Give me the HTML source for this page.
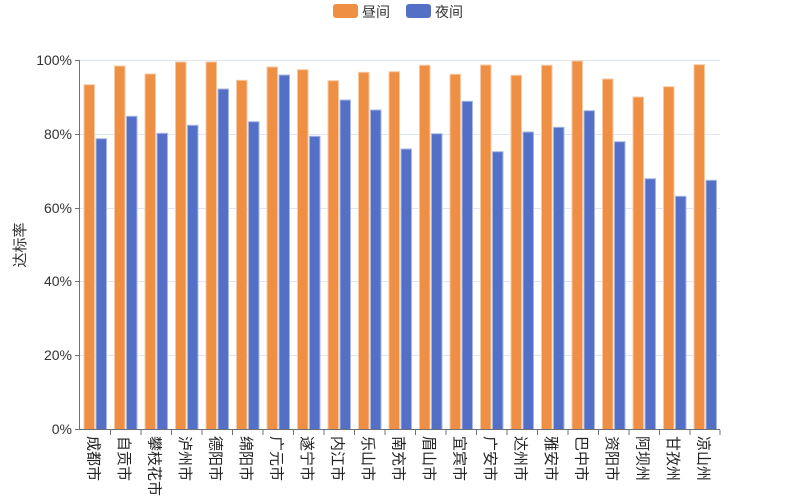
<!DOCTYPE html>
<html><head><meta charset="utf-8"><style>
html,body{margin:0;padding:0;background:#fff;}
svg{display:block;font-family:"Liberation Sans","Noto Sans CJK SC",sans-serif;}
</style></head><body>
<svg width="800" height="500" xmlns="http://www.w3.org/2000/svg">
<rect x="333" y="4" width="25" height="14" rx="3" fill="#ee8f43"/>
<text x="362" y="17" font-size="14" fill="#333">昼间</text>
<rect x="406" y="4" width="25" height="14" rx="3" fill="#5470c6"/>
<text x="435" y="17" font-size="14" fill="#333">夜间</text>
<g stroke="#e0e6f1" stroke-width="1">
<line x1="80" x2="720" y1="60.5" y2="60.5"/><line x1="80" x2="720" y1="134.5" y2="134.5"/>
<line x1="80" x2="720" y1="208.5" y2="208.5"/><line x1="80" x2="720" y1="281.5" y2="281.5"/>
<line x1="80" x2="720" y1="355.5" y2="355.5"/>
</g>
<g font-size="14" fill="#333" text-anchor="end">
<text x="72" y="65">100%</text><text x="72" y="139">80%</text><text x="72" y="213">60%</text>
<text x="72" y="286">40%</text><text x="72" y="360">20%</text><text x="72" y="434">0%</text>
</g>
<text transform="translate(25,245) rotate(-90)" font-size="15" fill="#333" text-anchor="middle">达标率</text>
<g fill="#ee8f43" stroke="#f7c9a3" stroke-width="1">
<rect x="84" y="84.7" width="10.5" height="344.8"/><rect x="114.5" y="66" width="10.5" height="363.5"/>
<rect x="145" y="74" width="10.5" height="355.5"/><rect x="175.5" y="62" width="10.5" height="367.5"/>
<rect x="206" y="62" width="10.5" height="367.5"/><rect x="236.5" y="80.3" width="10.5" height="349.2"/>
<rect x="267" y="67" width="10.5" height="362.5"/><rect x="297.5" y="69.7" width="10.5" height="359.8"/>
<rect x="328" y="80.7" width="10.5" height="348.8"/><rect x="358.5" y="72.3" width="10.5" height="357.2"/>
<rect x="389" y="71.7" width="10.5" height="357.8"/><rect x="419.5" y="65.3" width="10.5" height="364.2"/>
<rect x="450" y="74.3" width="10.5" height="355.2"/><rect x="480.5" y="65" width="10.5" height="364.5"/>
<rect x="511" y="75.3" width="10.5" height="354.2"/><rect x="541.5" y="65.3" width="10.5" height="364.2"/>
<rect x="572" y="61" width="10.5" height="368.5"/><rect x="602.5" y="79" width="10.5" height="350.5"/>
<rect x="633" y="97" width="10.5" height="332.5"/><rect x="663.5" y="86.7" width="10.5" height="342.8"/>
<rect x="694" y="64.7" width="10.5" height="364.8"/>
</g>
<g fill="#5470c6" stroke="#aab7e3" stroke-width="1">
<rect x="96" y="138.7" width="10.5" height="290.8"/><rect x="126.5" y="116.3" width="10.5" height="313.2"/>
<rect x="157" y="133.3" width="10.5" height="296.2"/><rect x="187.5" y="125.3" width="10.5" height="304.2"/>
<rect x="218" y="89" width="10.5" height="340.5"/><rect x="248.5" y="121.7" width="10.5" height="307.8"/>
<rect x="279" y="75" width="10.5" height="354.5"/><rect x="309.5" y="136.3" width="10.5" height="293.2"/>
<rect x="340" y="100" width="10.5" height="329.5"/><rect x="370.5" y="110" width="10.5" height="319.5"/>
<rect x="401" y="149" width="10.5" height="280.5"/><rect x="431.5" y="133.7" width="10.5" height="295.8"/>
<rect x="462" y="101.3" width="10.5" height="328.2"/><rect x="492.5" y="151.7" width="10.5" height="277.8"/>
<rect x="523" y="132" width="10.5" height="297.5"/><rect x="553.5" y="127.3" width="10.5" height="302.2"/>
<rect x="584" y="110.7" width="10.5" height="318.8"/><rect x="614.5" y="141.7" width="10.5" height="287.8"/>
<rect x="645" y="178.7" width="10.5" height="250.8"/><rect x="675.5" y="196.3" width="10.5" height="233.2"/>
<rect x="706" y="180.3" width="10.5" height="249.2"/>
</g>
<g stroke="#6e7079" stroke-width="1">
<line x1="79.5" x2="79.5" y1="60" y2="430"/>
<line x1="79" x2="720" y1="429.5" y2="429.5"/>
<line x1="75" x2="79.5" y1="60.5" y2="60.5"/><line x1="75" x2="79.5" y1="134.5" y2="134.5"/>
<line x1="75" x2="79.5" y1="208.5" y2="208.5"/><line x1="75" x2="79.5" y1="281.5" y2="281.5"/>
<line x1="75" x2="79.5" y1="355.5" y2="355.5"/><line x1="75" x2="79.5" y1="429.5" y2="429.5"/>
<path d="M110.5 430v5M141 430v5M171.5 430v5M202 430v5M232.5 430v5M263 430v5M293.5 430v5M324 430v5M354.5 430v5M385 430v5M415.5 430v5M446 430v5M476.5 430v5M507 430v5M537.5 430v5M568 430v5M598.5 430v5M629 430v5M659.5 430v5M690 430v5M720 430v5"/>
</g>
<g font-size="15" fill="#222">
<text transform="translate(88.7,436) rotate(90)">成都市</text>
<text transform="translate(119.2,436) rotate(90)">自贡市</text>
<text transform="translate(149.7,436) rotate(90)">攀枝花市</text>
<text transform="translate(180.2,436) rotate(90)">泸州市</text>
<text transform="translate(210.7,436) rotate(90)">德阳市</text>
<text transform="translate(241.2,436) rotate(90)">绵阳市</text>
<text transform="translate(271.7,436) rotate(90)">广元市</text>
<text transform="translate(302.2,436) rotate(90)">遂宁市</text>
<text transform="translate(332.7,436) rotate(90)">内江市</text>
<text transform="translate(363.2,436) rotate(90)">乐山市</text>
<text transform="translate(393.7,436) rotate(90)">南充市</text>
<text transform="translate(424.2,436) rotate(90)">眉山市</text>
<text transform="translate(454.7,436) rotate(90)">宜宾市</text>
<text transform="translate(485.2,436) rotate(90)">广安市</text>
<text transform="translate(515.7,436) rotate(90)">达州市</text>
<text transform="translate(546.2,436) rotate(90)">雅安市</text>
<text transform="translate(576.7,436) rotate(90)">巴中市</text>
<text transform="translate(607.2,436) rotate(90)">资阳市</text>
<text transform="translate(637.7,436) rotate(90)">阿坝州</text>
<text transform="translate(668.2,436) rotate(90)">甘孜州</text>
<text transform="translate(698.7,436) rotate(90)">凉山州</text>
</g>
</svg>
</body></html>
